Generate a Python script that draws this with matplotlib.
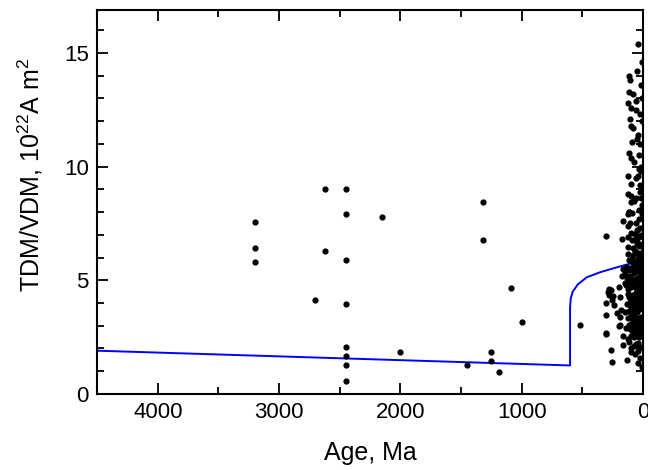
import numpy as np
import matplotlib
matplotlib.use("Agg")
import matplotlib.pyplot as plt
from matplotlib.ticker import MultipleLocator

plt.rcParams["font.family"] = ["Liberation Sans", "DejaVu Sans"]
plt.rcParams["mathtext.fontset"] = "custom"
plt.rcParams["mathtext.rm"] = "Liberation Sans"
plt.rcParams["mathtext.it"] = "Liberation Sans:italic"

# old (Precambrian) determinations
old_age = [3200, 3200, 3200, 2620, 2620, 2700, 2450, 2450, 2450, 2450, 2450,
           2450, 2450, 2450, 2150, 2000, 1450, 1320, 1320, 1250, 1250, 1190,
           1090, 1000, 520]
old_val = [7.55, 6.4, 5.8, 9.0, 6.3, 4.15, 9.0, 7.9, 5.9, 3.95, 2.05,
           1.65, 1.28, 0.58, 7.8, 1.85, 1.25, 8.45, 6.75, 1.85, 1.45, 0.97,
           4.65, 3.15, 3.05]

# Phanerozoic cluster
young_age = [40, 45, 110, 105, 110, 85, 60, 100, 55, 105, 100, 80, 40, 20,
             115, 100, 35, 15, 125, 60, 20, 100, 125, 95, 55, 20, 100, 70,
             110, 35, 8, 10, 5, 12, 5, 25, 90, 70, 30, 50, 15, 120,
             165, 120, 115, 90, 10, 120, 60, 175, 120, 90, 60, 30, 125, 80,
             30, 5, 110, 80, 40, 10, 60, 45, 100, 20,
             8, 22, 35, 48, 62, 75, 88, 102, 115, 128,
             4, 18, 30, 42, 55, 68, 82, 95, 108, 122,
             10, 25, 38, 50, 63, 77, 90, 104, 117, 130,
             6, 20, 33, 46, 58, 72, 85, 98, 112, 125,
             12, 27, 40, 53, 66, 80, 93, 106, 118, 2,
             15, 30, 45, 60, 75, 100, 110, 55, 25, 95,
             5, 12, 3, 28, 70, 58, 100, 84, 120, 110,
             140, 145, 135, 150, 140, 15, 35, 65, 85, 50,
             14, 28, 44, 57, 71, 93, 108, 3, 36, 66,
             18, 52, 80, 115, 9, 47, 74, 97, 24, 60,
             2, 16, 33, 50, 68, 86, 104, 122, 11, 42,
             100, 40, 38, 255, 260, 165, 40, 35, 165, 90, 85, 300, 20, 70,
             120, 10, 65, 130,
             300, 290, 280, 265, 250, 300, 300, 255, 195, 190, 180, 190,
             190, 300, 240, 200, 150, 170, 160, 280, 210]
young_val = [15.4, 14.2, 14.0, 13.8, 13.3, 13.2, 12.9, 12.6, 12.5, 12.1,
             11.8, 11.7, 11.4, 11.0, 10.6, 10.4, 10.5, 10.0, 9.6, 9.5, 9.2,
             9.25, 8.8, 8.7, 8.6, 8.9, 8.45, 8.5, 8.0, 8.1, 14.6, 13.0,
             12.0, 9.8, 8.3, 12.3, 11.1, 10.2, 9.9, 11.2, 13.6, 12.8,
             7.6, 7.9, 8.0, 7.95, 7.9, 7.4, 7.5, 6.8, 6.9, 6.75, 6.8, 6.9,
             6.45, 6.4, 6.5, 6.6, 5.9, 6.1, 6.2, 6.0, 5.85, 7.2, 7.1, 7.3,
             5.7, 5.5, 5.65, 5.4, 5.6, 5.3, 5.55, 5.2, 5.45, 5.1,
             5.0, 4.85, 5.15, 4.9, 5.05, 4.75, 4.95, 4.7, 4.85, 4.6,
             4.5, 4.3, 4.55, 4.2, 4.4, 4.15, 4.35, 4.05, 4.25, 3.95,
             3.9, 3.75, 3.95, 3.6, 3.8, 3.55, 3.7, 3.45, 3.65, 3.35,
             3.3, 3.15, 3.35, 3.0, 3.2, 2.95, 3.1, 2.85, 3.05, 3.1,
             2.7, 2.9, 2.6, 2.75, 2.5, 2.55, 2.3, 2.2, 2.05, 2.0,
             4.2, 5.25, 5.6, 4.05, 5.7, 4.65, 3.85, 3.3, 4.4, 5.0,
             4.8, 3.6, 2.9, 5.3, 5.6, 5.85, 6.05, 6.3, 5.75, 6.6,
             5.35, 4.6, 5.8, 4.45, 3.5, 5.9, 3.9, 4.75, 4.1, 5.05,
             3.4, 3.85, 4.3, 5.55, 2.8, 3.25, 3.95, 4.95, 3.05, 4.35,
             6.3, 7.0, 7.7, 6.7, 7.05, 5.95, 7.5, 6.15, 8.6, 9.6,
             1.85, 1.9, 1.37, 1.4, 1.95, 2.15, 2.25, 2.5, 2.55, 2.8, 2.7,
             2.65, 1.6, 2.1, 2.4, 1.2, 1.75, 1.5,
             6.95, 4.47, 4.6, 4.55, 4.3, 3.45, 2.7, 4.15, 4.7, 4.25, 3.7,
             3.4, 3.05, 4.0, 3.9, 3.0, 4.9, 5.2, 5.5, 4.35, 3.55]

# model curve
model_age = [4500, 600, 600, 594, 578, 536, 462, 354, 214, 91, 20]
model_val = [1.9, 1.25, 3.8, 4.2, 4.5, 4.82, 5.13, 5.35, 5.57, 5.75, 5.82]

fig = plt.figure(figsize=(6.48, 4.70), dpi=100)
ax = fig.add_axes([0.150, 0.162, 0.842, 0.817])

ax.scatter(old_age, old_val, s=12, color="black", zorder=3)
ax.scatter(young_age, young_val, s=12, color="black", zorder=3)
ax.plot(model_age, model_val, color="#0000ff", lw=1.4, zorder=2)

ax.set_xlim(4500, 0)
ax.set_ylim(0, 16.9)
ax.xaxis.set_major_locator(MultipleLocator(1000))
ax.xaxis.set_minor_locator(MultipleLocator(500))
ax.yaxis.set_major_locator(MultipleLocator(5))
ax.yaxis.set_minor_locator(MultipleLocator(1))

ax.tick_params(which="both", direction="in", top=True, right=True,
               labelsize=16, width=1.3, pad=6)
ax.tick_params(which="major", length=8)
ax.tick_params(which="minor", length=5)
for sp in ax.spines.values():
    sp.set_linewidth(1.5)

ax.set_xlabel("Age, Ma", fontsize=18, labelpad=13)
ax.set_ylabel("TDM/VDM, 10$^{22}$A m$^{2}$", fontsize=18)
ax.yaxis.set_label_coords(-0.095, 0.57)

fig.savefig("out.png", dpi=100)
